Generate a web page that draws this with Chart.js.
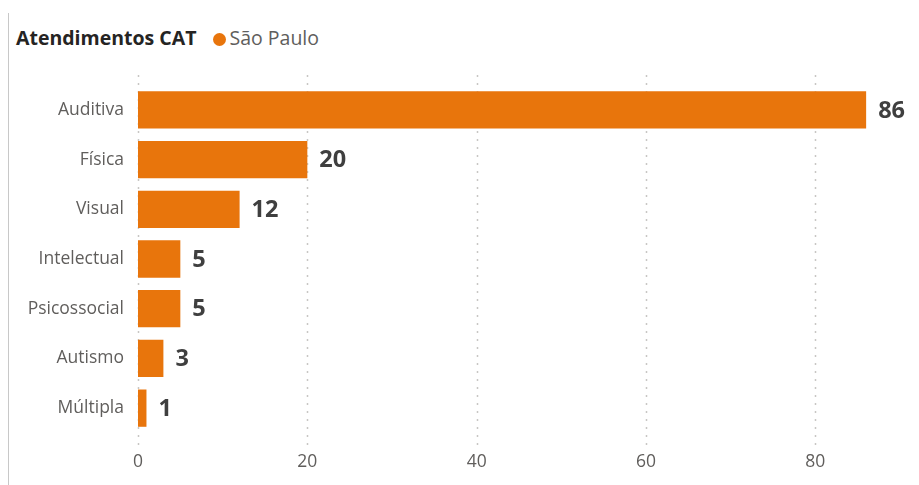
<!DOCTYPE html>
<html>
<head>
<meta charset="utf-8">
<script src="https://cdn.jsdelivr.net/npm/chart.js@4/dist/chart.umd.min.js"></script>
<style>
  html, body { margin: 0; padding: 0; background: #fff; }
  #wrap { position: relative; width: 919px; height: 485px; overflow: hidden; }
  #vline { position: absolute; left: 8px; top: 13px; bottom: 0; border-left: 1px solid #c8c8c8; }
  #head { position: absolute; left: 16px; top: 24px; font-family: "Open Sans", "Noto Sans", sans-serif; font-size: 19.5px; line-height: 28px; white-space: nowrap; }
  #head .t { font-weight: bold; color: #252423; }
  #head .dot { display: inline-block; width: 13px; height: 13px; border-radius: 50%; background: #E8750C; margin-left: 16px; margin-right: 4px; vertical-align: -1px; }
  #head .l { color: #605e5c; }
  canvas { position: absolute; left: 0; top: 0; }
</style>
</head>
<body>
<div id="wrap">
  <div id="vline"></div>
  <div id="head"><span class="t">Atendimentos CAT</span><span class="dot"></span><span class="l">São Paulo</span></div>
  <canvas id="c" width="919" height="485"></canvas>
</div>
<script>
const categories = ["Auditiva", "Física", "Visual", "Intelectual", "Psicossocial", "Autismo", "Múltipla"];
const saoPaulo = [86, 20, 12, 5, 5, 3, 1];
const xTicks = [0, 20, 40, 60, 80];
const seriesName = "São Paulo";

const barColor = "#E8750C";

const gridPlugin = {
  id: "dottedGrid",
  beforeDatasetsDraw(chart) {
    const ctx = chart.ctx;
    const xs = chart.scales.x;
    const a = chart.chartArea;
    ctx.save();
    ctx.strokeStyle = "#c8c6c4";
    ctx.lineWidth = 1.5;
    ctx.setLineDash([2, 6]);
    xTicks.forEach(v => {
      const px = Math.round(xs.getPixelForValue(v)) + 0.5;
      ctx.beginPath();
      ctx.moveTo(px, a.top - 10);
      ctx.lineTo(px, a.bottom + 15);
      ctx.stroke();
    });
    ctx.restore();
  }
};

const labelPlugin = {
  id: "valueLabels",
  afterDatasetsDraw(chart) {
    const ctx = chart.ctx;
    const meta = chart.getDatasetMeta(0);
    ctx.save();
    ctx.font = "bold 23.5px 'Open Sans', 'Noto Sans', sans-serif";
    ctx.fillStyle = "#3f3f3f";
    ctx.textAlign = "left";
    ctx.textBaseline = "middle";
    meta.data.forEach((bar, i) => {
      ctx.fillText(String(chart.data.datasets[0].data[i]), bar.x + 12, bar.y + 1);
    });
    ctx.restore();
  }
};

new Chart(document.getElementById("c"), {
  type: "bar",
  data: {
    labels: categories,
    datasets: [{
      label: seriesName,
      data: saoPaulo,
      backgroundColor: barColor,
      borderWidth: 0,
      categoryPercentage: 0.75,
      barPercentage: 1.0
    }]
  },
  options: {
    indexAxis: "y",
    responsive: false,
    animation: false,
    layout: { padding: { top: 85, right: 19, left: 0, bottom: 0 } },
    plugins: {
      legend: { display: false },
      title: { display: false },
      tooltip: { enabled: false }
    },
    scales: {
      x: {
        min: 0,
        max: 90,
        afterFit(scale) { scale.height = 52; },
        afterBuildTicks(scale) { scale.ticks = xTicks.map(v => ({ value: v })); },
        grid: { display: false, drawTicks: false },
        border: { display: false },
        ticks: {
          padding: 19,
          color: "#605e5c",
          font: { family: "'Open Sans', 'Noto Sans', sans-serif", size: 17.5 }
        }
      },
      y: {
        afterFit(scale) { scale.width = 138; },
        grid: { display: false, drawTicks: false },
        border: { display: false },
        ticks: {
          padding: 14,
          color: "#605e5c",
          font: { family: "'Open Sans', 'Noto Sans', sans-serif", size: 17.5 }
        }
      }
    }
  },
  plugins: [gridPlugin, labelPlugin]
});
</script>
</body>
</html>
